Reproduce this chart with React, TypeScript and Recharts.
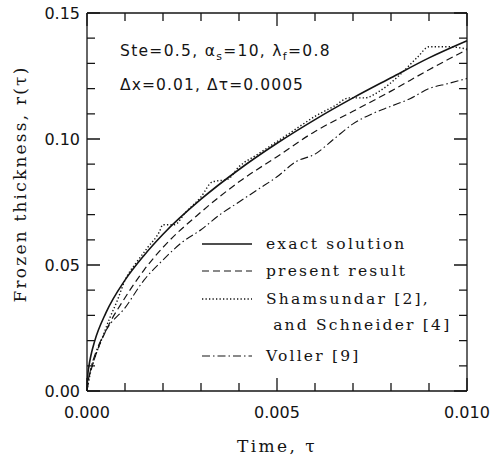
import React from "react"
import { LineChart, Line, XAxis, YAxis, Legend } from "recharts"

// tau values and frozen thickness
const exactTau = [0, 0.00002, 0.00005, 0.0001, 0.0002, 0.0005, 0.001, 0.0015, 0.002, 0.003, 0.004, 0.005, 0.006, 0.007, 0.008, 0.009, 0.01]
const exactR = [0, 0.0062, 0.0098, 0.0139, 0.0197, 0.0311, 0.044, 0.0538, 0.0622, 0.0761, 0.0879, 0.0983, 0.1077, 0.1163, 0.1243, 0.1322, 0.139]

const presentTau = [0, 0.00002, 0.00005, 0.0001, 0.0002, 0.0005, 0.001, 0.0015, 0.002, 0.003, 0.004, 0.005, 0.006, 0.007, 0.008, 0.009, 0.01]
const presentR = [0, 0.003, 0.0055, 0.008, 0.013, 0.024, 0.037, 0.048, 0.057, 0.071, 0.083, 0.093, 0.103, 0.111, 0.119, 0.1275, 0.1355]

const shamTau = [0, 0.0001, 0.0002, 0.0004, 0.0006, 0.0008, 0.001, 0.0013, 0.0016, 0.0019, 0.002, 0.0023, 0.0026, 0.003, 0.0033, 0.0037, 0.004, 0.0045, 0.005, 0.0055, 0.006, 0.0065, 0.0069, 0.0073, 0.0077, 0.0082, 0.0087, 0.009, 0.0095, 0.01]
const shamR = [0, 0.008, 0.013, 0.021, 0.029, 0.036, 0.044, 0.051, 0.057, 0.063, 0.066, 0.066, 0.071, 0.077, 0.083, 0.084, 0.089, 0.094, 0.099, 0.104, 0.109, 0.113, 0.1163, 0.1163, 0.119, 0.125, 0.1325, 0.1366, 0.1366, 0.1357]

const vollerTau = [0, 0.0001, 0.0002, 0.0005, 0.001, 0.0015, 0.002, 0.0025, 0.003, 0.0035, 0.004, 0.0045, 0.005, 0.0055, 0.006, 0.0065, 0.007, 0.0075, 0.008, 0.0085, 0.009, 0.0095, 0.01]
const vollerR = [0, 0.009, 0.014, 0.024, 0.033, 0.044, 0.052, 0.059, 0.064, 0.07, 0.075, 0.08, 0.085, 0.091, 0.094, 0.1, 0.106, 0.11, 0.113, 0.116, 0.12, 0.122, 0.124]

const xTicks = [0, 0.001, 0.002, 0.003, 0.004, 0.005, 0.006, 0.007, 0.008, 0.009, 0.01]
const yTicks = [0, 0.01, 0.02, 0.03, 0.04, 0.05, 0.06, 0.07, 0.08, 0.09, 0.1, 0.11, 0.12, 0.13, 0.14, 0.15]

const X_MAX = 0.01
const Y_MAX = 0.15

const zip = (t: number[], r: number[]) => t.map((tau, i) => ({ tau, r: r[i] }))

const series = [
  { name: "exact solution", data: zip(exactTau, exactR), dash: undefined, width: 1.6 },
  { name: "present result", data: zip(presentTau, presentR), dash: "7 4", width: 1.2 },
  { name: "Shamsundar [2],", data: zip(shamTau, shamR), dash: "1.3 2.2", width: 1.4 },
  { name: "Voller [9]", data: zip(vollerTau, vollerR), dash: "8 3 1.5 3", width: 1.1 },
]

const INK = "#141414"
const serif = "'DejaVu Serif', serif"
const sans = "'DejaVu Sans', sans-serif"
const frame = { stroke: INK, strokeWidth: 1.3 }

// plot box size in px, used to turn tick lengths into data units
const PLOT_W = 380
const PLOT_H = 378
const pxX = X_MAX / PLOT_W
const pxY = Y_MAX / PLOT_H

const isMajor = (v: number, step: number) => Math.abs(v / step - Math.round(v / step)) < 1e-6
const lenX = (v: number) => (isMajor(v, 0.005) ? 13 : 8)
const lenY = (v: number) => (isMajor(v, 0.05) ? 13 : 8)

// inward tick marks, drawn as broken line series (null breaks the segment)
const tickSets = [
  xTicks.flatMap((v) => [{ tau: v, r: 0 }, { tau: v, r: lenX(v) * pxY }, { tau: v, r: null }]),
  xTicks.flatMap((v) => [{ tau: v, r: Y_MAX }, { tau: v, r: Y_MAX - lenX(v) * pxY }, { tau: v, r: null }]),
  yTicks.flatMap((v) => [{ tau: 0, r: v }, { tau: lenY(v) * pxX, r: v }, { tau: lenY(v) * pxX, r: null }]),
  yTicks.flatMap((v) => [{ tau: X_MAX, r: v }, { tau: X_MAX - lenY(v) * pxX, r: v }, { tau: X_MAX - lenY(v) * pxX, r: null }]),
]

const BottomLabel = (props: any) => {
  const { x, y, payload } = props
  if (!isMajor(payload.value, 0.005)) return <g />
  return (
    <text x={x} y={y + 27} textAnchor="middle" fontFamily={sans} fontSize={16} fill={INK}>
      {payload.value.toFixed(3)}
    </text>
  )
}

const LeftLabel = (props: any) => {
  const { x, y, payload } = props
  if (!isMajor(payload.value, 0.05)) return <g />
  return (
    <text x={x - 7} y={y} dy="0.36em" textAnchor="end" fontFamily={sans} fontSize={16} fill={INK}>
      {payload.value.toFixed(2)}
    </text>
  )
}

const legendText = { fontFamily: serif, fontSize: 15.5, letterSpacing: 2.2, fill: INK }

const LegendBox = () => {
  const rows = [
    { s: series[0], y: 14 },
    { s: series[1], y: 41 },
    { s: series[2], y: 69 },
    { s: series[3], y: 126 },
  ]
  return (
    <svg width={290} height={150}>
      {rows.map(({ s, y }) => (
        <g key={s.name}>
          <line x1={7} x2={57} y1={y} y2={y} stroke={INK} strokeWidth={s.width} strokeDasharray={s.dash} />
          <text x={71} y={y} dy="0.35em" {...legendText}>
            {s.name}
          </text>
        </g>
      ))}
      <text x={71} y={95} dy="0.35em" {...legendText}>
        {"\u00a0and Schneider [4]"}
      </text>
    </svg>
  )
}

export default function App() {
  return (
    <div style={{ position: "absolute", left: 0, top: 0, width: 500, height: 463, background: "#fff" }}>
      <LineChart width={500} height={463} margin={{ top: 0, right: 32, bottom: 0, left: 0 }}>
        <XAxis
          xAxisId="bottom"
          dataKey="tau"
          type="number"
          domain={[0, X_MAX]}
          ticks={xTicks}
          interval={0}
          height={72}
          tickSize={0}
          tickMargin={0}
          tickLine={false}
          axisLine={frame}
          tick={(p: any) => <BottomLabel {...p} />}
          label={{ value: "Time,  \u03c4", position: "insideBottom", offset: 11, fontFamily: serif, fontSize: 17, fill: INK, letterSpacing: 2.4 }}
        />
        <XAxis xAxisId="top" orientation="top" dataKey="tau" type="number" domain={[0, X_MAX]} height={13} tick={false} tickLine={false} axisLine={frame} />
        <YAxis
          yAxisId="left"
          type="number"
          domain={[0, Y_MAX]}
          ticks={yTicks}
          interval={0}
          width={87}
          tickSize={0}
          tickMargin={0}
          tickLine={false}
          axisLine={frame}
          tick={(p: any) => <LeftLabel {...p} />}
          label={{ value: "Frozen thickness,  r(\u03c4)", angle: -90, position: "insideLeft", offset: 20, dy: -18, style: { textAnchor: "middle" }, fontFamily: serif, fontSize: 17, fill: INK, letterSpacing: 2.2 }}
        />
        <YAxis yAxisId="right" orientation="right" type="number" domain={[0, Y_MAX]} width={1} tick={false} tickLine={false} axisLine={frame} />
        {tickSets.map((d, i) => (
          <Line
            key={`ticks-${i}`}
            xAxisId="bottom"
            yAxisId="left"
            data={d}
            dataKey="r"
            type="linear"
            stroke={INK}
            strokeWidth={1.3}
            dot={false}
            activeDot={false}
            legendType="none"
            isAnimationActive={false}
          />
        ))}
        {series.map((s) => (
          <Line
            key={s.name}
            xAxisId="bottom"
            yAxisId="left"
            data={s.data}
            dataKey="r"
            name={s.name}
            type="monotone"
            stroke={INK}
            strokeWidth={s.width}
            strokeDasharray={s.dash}
            dot={false}
            activeDot={false}
            isAnimationActive={false}
          />
        ))}
        <Legend
          layout="vertical"
          align="center"
          verticalAlign="middle"
          wrapperStyle={{ left: 195, top: 230, width: 290 }}
          content={() => <LegendBox />}
        />
      </LineChart>
      <svg width={500} height={463} style={{ position: "absolute", left: 0, top: 0, pointerEvents: "none" }}>
        <text x={120} y={56} fontFamily={sans} fontSize={15.5} letterSpacing={1.3} fill={INK}>
          Ste=0.5,{"  "}
          <tspan>{"\u03b1"}</tspan>
          <tspan fontSize={11} dy={4}>s</tspan>
          <tspan dy={-4}>=10,  {"\u03bb"}</tspan>
          <tspan fontSize={11} dy={4}>f</tspan>
          <tspan dy={-4}>=0.8</tspan>
        </text>
        <text x={120} y={90} fontFamily={sans} fontSize={15.5} letterSpacing={1.1} fill={INK}>
          {"\u0394x=0.01,  \u0394\u03c4=0.0005"}
        </text>
      </svg>
    </div>
  )
}
